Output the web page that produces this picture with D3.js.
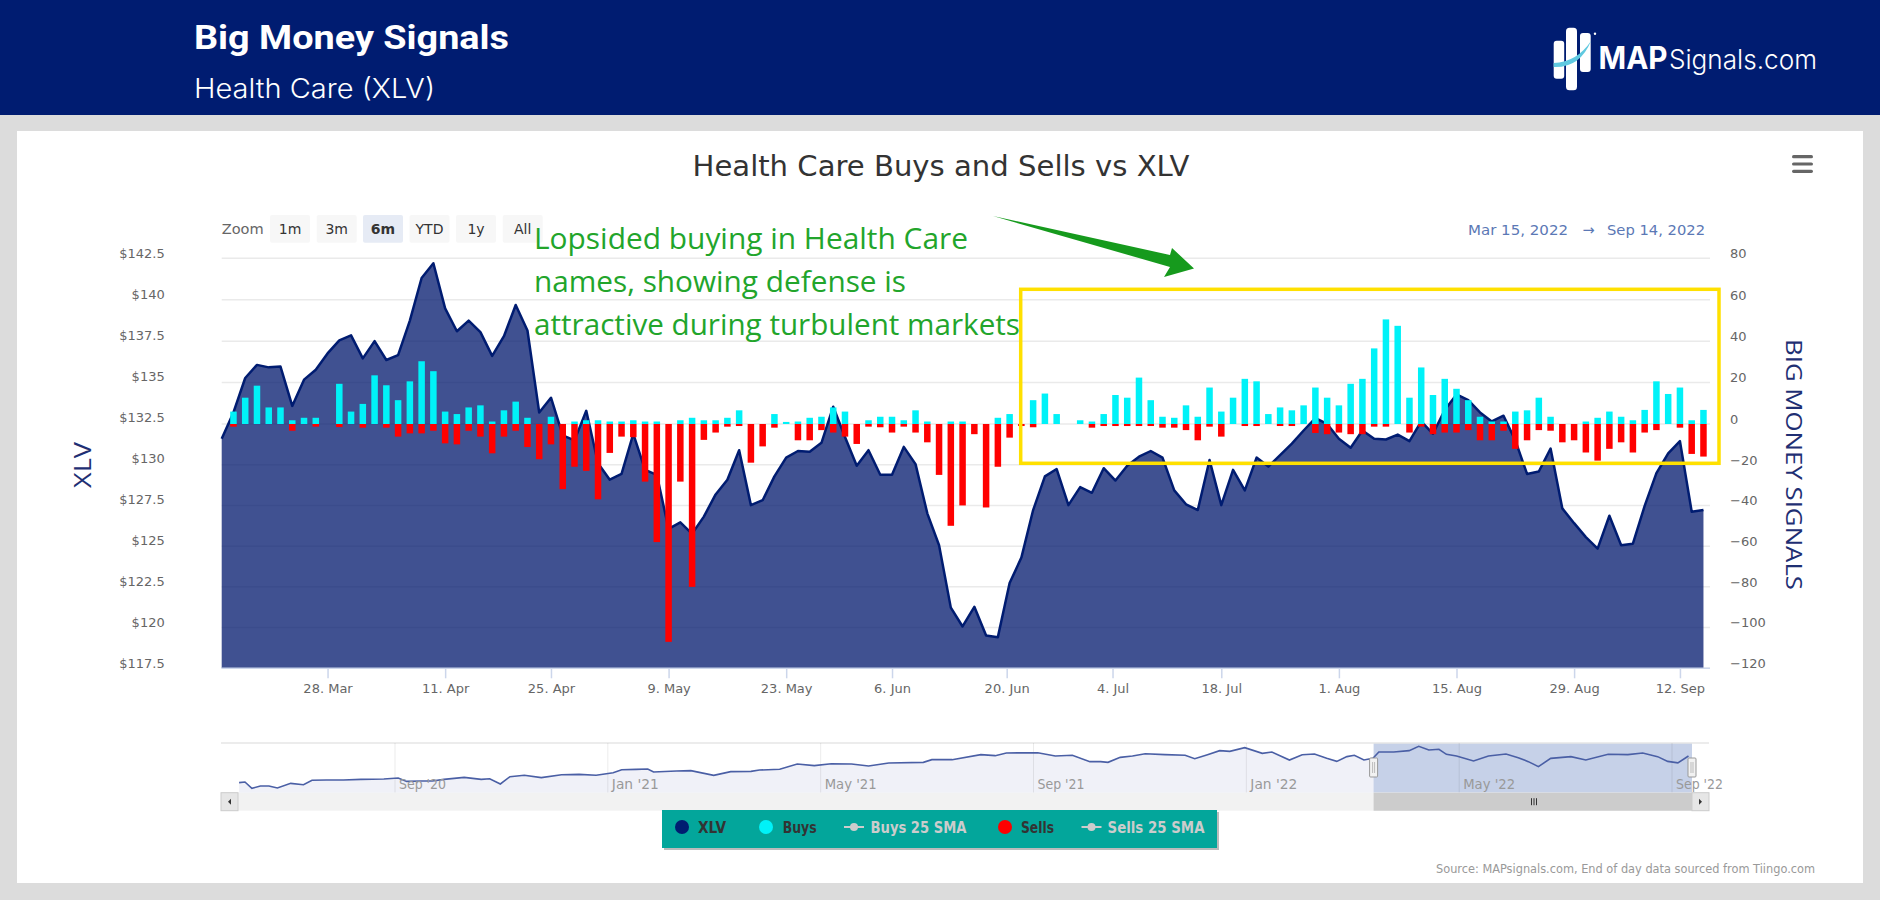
<!DOCTYPE html>
<html>
<head>
<meta charset="utf-8">
<title>Big Money Signals</title>
<script src="https://cdnjs.cloudflare.com/ajax/libs/d3/7.8.5/d3.min.js"></script>
<style>
  html, body { margin: 0; padding: 0; background: #dcdcdc; overflow: hidden; }
  text { font-family: "DejaVu Sans", sans-serif; }
  .axis .domain { display: none; }
  .axis text { fill: #666; font-size: 13px; }
</style>
</head>
<body>
<div id="viz"></div>
<script>
// one entry per trading day, 15 Mar 2022 to 14 Sep 2022
var price = [131.5,133.1,135.2,136,135.85,135.9,133.5,135.1,135.7,136.7,137.5,137.8,136.4,137.45,136.3,136.6,138.7,141.3,142.2,139.45,
  138.05,138.7,138,136.55,137.75,139.65,138.1,133.1,134,131.7,131.4,133.2,130,129,129.35,131.8,129.6,129.3,126,126.4,
  125.7,126.75,128.1,129,130.8,127.45,127.75,129.2,130.35,130.75,130.7,131.25,133.45,131.6,129.85,130.8,129.3,129.3,131,129.95,
  126.95,125,121.2,120.05,121.25,119.5,119.4,122.7,124.25,127.15,129.2,129.65,127.45,128.55,128.2,129.7,128.95,129.85,130.4,130.75,
  130.35,128.35,127.5,127.15,130.2,127.45,129.6,128.35,130.35,129.8,130.5,131.2,132,132.75,132.4,131.5,130.95,132,131.5,131.45,
  131.75,131.35,132.55,131.8,133.25,134.2,133.85,133.1,132.55,132.9,131.4,129.35,129.5,130.9,127.25,126.35,125.5,124.8,126.8,125,
  125.1,127.4,129.4,130.6,131.35,127.05,127.15];

var buys = [0,6,12.7,18.5,8,8,1.8,3,3,0,19.4,6,9.7,23.5,18.7,11.5,20.6,30.3,25.5,6,
  4.8,8,9,1.2,6.6,10.8,3,0,3.5,0,1.2,1.8,1.8,1.2,1.2,1.8,1.2,1.2,0,1.8,
  3,1.8,1.8,3,6.6,0,0,4.8,1,1.2,3,3.5,8,6,0,1.8,3.5,3.5,1.8,6.6,
  1.2,0,1.2,1.2,0,0,3,4.8,0,11.5,14.7,4.8,0,1.8,1.2,4.8,14,12.7,22.4,11.5,
  3.5,3,9,3.5,17.6,6,12.7,21.8,20.6,4.8,8,6.6,9,17.6,12.7,9,19.4,21.8,36.5,50.5,
  47.4,12.7,27.3,14,21.8,17,11.5,3.5,1.2,1.2,6,6.6,12.7,3.5,0,0,1.2,3,6,3.5,
  1.8,6.8,20.6,14.5,17.6,1.8,6.8];

var sells = [0,1.3,0,0,0,0,3.3,0,1.3,0,1.5,0,1.8,0,1.8,6.2,4.6,4.6,3.3,9.5,
  10,3.3,6.2,14.4,6.2,3.3,11.3,17.3,10,32,21,23,37,14.2,6.2,6.5,28.3,58,107,28.3,
  80,7.8,4.2,1.3,1,19,11,1.8,0,8,8,3,4.2,6.2,9.8,1.3,1.6,4.2,1.3,4.2,
  9,25,50,40,5,41,21,6.7,1,1.6,0,0,0,0,1.8,1,1,1,1,1,
  1.8,1.8,3,8,1.3,6.2,0,1,1,0,1,1,0,4.4,5,4.2,5,5,1.3,1.3,
  0,4.2,1.3,5,4.2,4.2,3,8,8,3.3,12.2,8,3,3.3,9,8,14,18,12.2,9,
  14,4.2,3,0,1.8,14.7,16];

// trading day index of each date label, holidays fall between two days
var dateTicks = [[9,"28. Mar"],[19,"11. Apr"],[28,"25. Apr"],[38,"9. May"],[48,"23. May"],[57,"6. Jun"],[66.75,"20. Jun"],
  [75.75,"4. Jul"],[85,"18. Jul"],[95,"1. Aug"],[105,"15. Aug"],[115,"29. Aug"],[124,"12. Sep"]];

// navigator series: [months after Sep 2020, price]
var navData = [[-2.93,101],[-2.82,101.7],[-2.69,94.6],[-2.53,97.2],[-2.37,97.2],[-2.21,95],[-1.96,100.2],[-1.72,98.7],[-1.56,103.6],[-1.29,104],
  [-0.97,104],[-0.64,104.7],[-0.21,105.1],[0.06,106.2],[0.22,102.4],[0.49,102.8],[0.7,102.8],[0.92,104.7],[1.3,106.9],[1.62,104.7],
  [1.78,105.4],[1.98,99.5],[2.16,107.7],[2.43,109.2],[2.75,106.6],[3.13,109.9],[3.46,110.3],[3.78,109.2],[4.1,112.1],[4.26,115.5],
  [4.53,115.9],[4.75,116.3],[4.86,112.9],[5.29,114],[5.56,114.4],[5.99,109.2],[6.31,113.3],[6.69,113.6],[6.85,115.1],[7.23,115.9],
  [7.56,121.9],[7.88,120],[8.2,122.2],[8.58,121.9],[8.9,119.6],[9.28,123],[9.93,123.7],[10.09,126.7],[10.47,126.7],[11.01,132.3],
  [11.28,131.2],[11.49,134.2],[12.08,134.5],[12.41,130.8],[12.73,131.6],[13.06,124.5],[13.26,124.5],[13.4,123.7],[13.63,129.3],[13.86,130.8],
  [14.1,133.4],[14.47,132.3],[14.85,131.6],[15.03,127.8],[15.27,132.3],[15.5,136.8],[15.69,136],[15.97,140.1],[16.3,133.8],[16.48,135.3],
  [16.81,126.3],[17.05,132.3],[17.28,133],[17.51,128.2],[17.7,124.8],[17.89,130.1],[18.03,131.6],[18.21,126.3],[18.38,128.2],[18.49,135.3],
  [18.77,135.3],[19.06,136.8],[19.24,141.6],[19.43,137.5],[19.62,138.3],[19.76,132.7],[19.95,130.8],[20.27,125.2],[20.55,130.8],[20.88,133],
  [21.11,128.9],[21.3,124.5],[21.49,118.9],[21.72,128.2],[22.1,130.1],[22.38,126.3],[22.8,132.7],[23.17,132.3],[23.45,134.2],[23.73,130.1],
  [23.92,124.8],[24.11,123.1],[24.31,130.8]];

var navTicks = [[0,"Sep '20"],[4,"Jan '21"],[8,"May '21"],[12,"Sep '21"],[16,"Jan '22"],[20,"May '22"],[24,"Sep '22"]];

var width = 1880, height = 900;
var plotLeft = 221.7, plotRight = 1710, plotTop = 258.3, plotBottom = 668.3;

var svg = d3.select("#viz").append("svg")
  .attr("width", width)
  .attr("height", height)
  .style("display", "block");

function label(x, y, str, size, fill, opts) {
  opts = opts || {};
  var t = svg.append("text")
    .attr("x", x).attr("y", y)
    .attr("font-size", size)
    .attr("fill", fill)
    .text(str);
  if (opts.family) t.style("font-family", opts.family);
  if (opts.weight) t.attr("font-weight", opts.weight);
  if (opts.anchor) t.attr("text-anchor", opts.anchor);
  if (opts.len) t.attr("textLength", opts.len).attr("lengthAdjust", "spacingAndGlyphs");
  if (opts.rotate) t.attr("transform", "rotate(" + opts.rotate + " " + x + " " + y + ")");
  return t;
}

// page furniture
svg.append("rect").attr("width", width).attr("height", 115).attr("fill", "#001c71");
svg.append("rect").attr("x", 17).attr("y", 131).attr("width", 1846).attr("height", 752).attr("fill", "#fff");

label(194, 49, "Big Money Signals", 33, "#fff", {family: "Roboto", weight: 700, len: 315});
label(194, 98, "Health Care (XLV)", 27, "#fff", {family: "Inter", weight: 300, len: 241});

// logo
var logo = svg.append("g").attr("fill", "#fff");
logo.append("rect").attr("x", 1553.7).attr("y", 40.7).attr("width", 10.5).attr("height", 38).attr("rx", 3);
logo.append("rect").attr("x", 1566).attr("y", 27.7).attr("width", 11).attr("height", 62.5).attr("rx", 3.5);
logo.append("rect").attr("x", 1580).attr("y", 33).attr("width", 10.7).attr("height", 39).attr("rx", 3);
logo.append("circle").attr("cx", 1595).attr("cy", 33.7).attr("r", 1.2);
svg.append("path").attr("d", "M1553.7 63 Q1577 62 1591 41 Q1580 68 1553.7 67 Z").attr("fill", "#5fc9e0");
label(1598.5, 69.3, "MAP", 31, "#fff", {family: "Inter", weight: 700, len: 69});
label(1669, 69.3, "Signals.com", 27, "#fff", {family: "Inter", weight: 300, len: 148});

label(692.5, 175.5, "Health Care Buys and Sells vs XLV", 28, "#333", {len: 497});

// hamburger menu
svg.selectAll(".menu").data([156.7, 164, 171.3]).enter().append("rect")
  .attr("x", 1792).attr("y", function(d) { return d - 1.6; })
  .attr("width", 21).attr("height", 3.2).attr("rx", 1.6).attr("fill", "#666");

// range selector
label(221.7, 234, "Zoom", 14, "#666", {len: 42});
var buttons = [["1m",270],["3m",316.7],["6m",363],["YTD",409.5],["1y",456],["All",502.7]];
svg.selectAll(".zoomBtn").data(buttons).enter().append("rect")
  .attr("x", function(d) { return d[1]; }).attr("y", 215)
  .attr("width", 40).attr("height", 27.7).attr("rx", 2)
  .attr("fill", function(d) { return d[0] == "6m" ? "#e6ebf5" : "#f7f7f7"; });
buttons.forEach(function(d) {
  label(d[1] + 20, 234, d[0], 14, "#333", {anchor: "middle", weight: d[0] == "6m" ? 700 : 400});
});
label(1468, 234.5, "Mar 15, 2022", 14.5, "#5b78b5", {len: 100});
label(1588.5, 234.5, "\u2192", 14.5, "#5b78b5", {anchor: "middle"});
label(1607, 234.5, "Sep 14, 2022", 14.5, "#5b78b5", {len: 98});

// scales
var x = d3.scaleLinear().domain([0, 126]).range([plotLeft, plotLeft + 11.76 * 126]);
var yPrice = d3.scaleLinear().domain([117.5, 142.5]).range([plotBottom, plotTop]);
var ySignal = d3.scaleLinear().domain([-120, 0, 80]).range([plotBottom, 424, plotTop]);

// grid
svg.selectAll(".grid").data(d3.range(-120, 81, 20)).enter().append("line")
  .attr("x1", plotLeft).attr("x2", plotRight)
  .attr("y1", function(d) { return ySignal(d); })
  .attr("y2", function(d) { return ySignal(d); })
  .attr("stroke", "#eaeaea").attr("stroke-width", 1.5);

// axes
var leftAxis = svg.append("g").attr("class", "axis")
  .attr("transform", "translate(" + plotLeft + ",0)")
  .call(d3.axisLeft(yPrice).tickValues(d3.range(117.5, 142.6, 2.5)).tickSize(0).tickPadding(57)
    .tickFormat(function(d) { return "$" + d; }));
leftAxis.selectAll("text").attr("dy", "-0.05em");

var rightAxis = svg.append("g").attr("class", "axis")
  .attr("transform", "translate(" + plotRight + ",0)")
  .call(d3.axisRight(ySignal).tickValues(d3.range(-120, 81, 20)).tickSize(0).tickPadding(20));
rightAxis.selectAll("text").attr("dy", "-0.05em");

var bottomAxis = svg.append("g").attr("class", "axis")
  .attr("transform", "translate(0," + plotBottom + ")")
  .call(d3.axisBottom(x).tickValues(dateTicks.map(function(d) { return d[0]; }))
    .tickSize(10).tickPadding(5)
    .tickFormat(function(d) { return dateTicks.find(function(t) { return t[0] == d; })[1]; }));
bottomAxis.selectAll("line").attr("stroke", "#ccd6eb").attr("stroke-width", 1.5);

// area and line
var area = d3.area()
  .x(function(d, i) { return x(i); })
  .y0(plotBottom)
  .y1(function(d) { return yPrice(d); });
var line = d3.line()
  .x(function(d, i) { return x(i); })
  .y(function(d) { return yPrice(d); });

svg.append("path").datum(price).attr("d", area).attr("fill", "#00176c").attr("fill-opacity", 0.75);
svg.append("path").datum(price).attr("d", line).attr("fill", "none").attr("stroke", "#001c71")
  .attr("stroke-width", 2.5).attr("stroke-linejoin", "round");
svg.append("line").attr("x1", plotLeft).attr("x2", plotRight).attr("y1", plotBottom).attr("y2", plotBottom)
  .attr("stroke", "#ccd6eb").attr("stroke-width", 1.5);

// bars
var barWidth = 6.5;
svg.selectAll(".buy").data(buys).enter().append("rect")
  .attr("class", "buy")
  .attr("x", function(d, i) { return x(i) - barWidth / 2; })
  .attr("y", function(d) { return ySignal(d); })
  .attr("width", barWidth)
  .attr("height", function(d) { return ySignal(0) - ySignal(d); })
  .attr("fill", "#00f2f8");
svg.selectAll(".sell").data(sells).enter().append("rect")
  .attr("class", "sell")
  .attr("x", function(d, i) { return x(i) - barWidth / 2; })
  .attr("y", ySignal(0))
  .attr("width", barWidth)
  .attr("height", function(d) { return ySignal(-d) - ySignal(0); })
  .attr("fill", "#ff0000");

// axis titles
label(91, 465, "XLV", 23, "#1f2f73", {anchor: "middle", rotate: -90, family: "Open Sans", len: 46});
label(1786, 339, "BIG MONEY SIGNALS", 22, "#1f2f73", {rotate: 90, family: "Open Sans", len: 251});

// annotation
svg.append("rect").attr("x", 1020.7).attr("y", 289.3).attr("width", 698.3).attr("height", 174)
  .attr("fill", "none").attr("stroke", "#ffe000").attr("stroke-width", 3.5);
svg.append("path")
  .attr("d", "M993 216 L1170 255 L1172 248 L1194 268.5 L1164 277 L1170 267 Z")
  .attr("fill", "#169a1d");
["Lopsided buying in Health Care", "names, showing defense is", "attractive during turbulent markets"].forEach(function(s, i) {
  label(534, 248.5 + i * 43.3, s, 29, "#22a52b", {family: "Open Sans", len: [434, 372, 486][i]});
});

// navigator
var navX = d3.scaleLinear().domain([0, 24]).range([395, 1672]);
var navY = d3.scaleLinear().domain([142, 94]).range([746, 788.9]);
var navBottom = 792.7, navTop = 743;

svg.append("path").datum(navData)
  .attr("d", d3.area().x(function(d) { return navX(d[0]); }).y0(navBottom).y1(function(d) { return navY(d[1]); }))
  .attr("fill", "#f0f1f8");
svg.append("rect").attr("x", 1373.6).attr("y", navTop).attr("width", 318.4).attr("height", navBottom - navTop).attr("fill", "#c6d1e8");
svg.append("line").attr("x1", 221).attr("x2", 1709).attr("y1", navTop).attr("y2", navTop)
  .attr("stroke", "#e6e6e6").attr("stroke-width", 1.5);
svg.selectAll(".navTick").data(navTicks).enter().append("line")
  .attr("x1", function(d) { return navX(d[0]); }).attr("x2", function(d) { return navX(d[0]); })
  .attr("y1", navTop).attr("y2", navBottom)
  .attr("stroke", "#000").attr("stroke-opacity", 0.08);
svg.append("path").datum(navData)
  .attr("d", d3.line().x(function(d) { return navX(d[0]); }).y(function(d) { return navY(d[1]); }))
  .attr("fill", "none").attr("stroke", "#4a5fa5").attr("stroke-width", 1.6);
navTicks.forEach(function(d) {
  label(navX(d[0]) + 4, 789, d[1], 14, "#999", {len: d[1].charAt(0) == "M" ? 52 : 47});
});

// scrollbar
svg.append("rect").attr("x", 221).attr("y", navBottom).attr("width", 1488).attr("height", 18).attr("fill", "#f2f2f2");
svg.append("rect").attr("x", 1373.6).attr("y", navBottom).attr("width", 318.4).attr("height", 18).attr("fill", "#cccccc");
[221, 1692].forEach(function(bx, i) {
  svg.append("rect").attr("x", bx).attr("y", navBottom).attr("width", 17).attr("height", 18)
    .attr("fill", "#e6e6e6").attr("stroke", "#ccc");
  var cx = bx + 8.5, cy = navBottom + 9;
  svg.append("path")
    .attr("d", i == 0 ? "M" + (cx + 1.5) + " " + (cy - 3) + " l-3 3 l3 3 Z" : "M" + (cx - 1.5) + " " + (cy - 3) + " l3 3 l-3 3 Z")
    .attr("fill", "#333");
});
[-2.5, 0, 2.5].forEach(function(d) {
  svg.append("line").attr("x1", 1534 + d).attr("x2", 1534 + d).attr("y1", navBottom + 5.5).attr("y2", navBottom + 12.5)
    .attr("stroke", "#333").attr("stroke-width", 1);
});
// navigator handles
[1373.6, 1692].forEach(function(hx) {
  svg.append("rect").attr("x", hx - 4).attr("y", 758).attr("width", 8).attr("height", 19).attr("rx", 1)
    .attr("fill", "#f2f2f2").attr("stroke", "#999");
  svg.append("line").attr("x1", hx - 1).attr("x2", hx - 1).attr("y1", 762).attr("y2", 773).attr("stroke", "#bbb");
  svg.append("line").attr("x1", hx + 1).attr("x2", hx + 1).attr("y1", 762).attr("y2", 773).attr("stroke", "#bbb");
});

// legend
svg.append("rect").attr("x", 664).attr("y", 812).attr("width", 555).attr("height", 38).attr("fill", "#bbb");
svg.append("rect").attr("x", 662).attr("y", 810).attr("width", 555).attr("height", 38).attr("fill", "#03a69b");
var legend = [
  {name: "XLV", cx: 682, tx: 698, len: 28, color: "#001c71", text: "#333"},
  {name: "Buys", cx: 766, tx: 782.7, len: 34, color: "#00f2f8", text: "#333"},
  {name: "Buys 25 SMA", cx: 854, tx: 870.5, len: 96, color: "#ccc", text: "#ccc", sma: true},
  {name: "Sells", cx: 1005, tx: 1021, len: 33, color: "#ff0000", text: "#333"},
  {name: "Sells 25 SMA", cx: 1091.5, tx: 1107.5, len: 97, color: "#ccc", text: "#ccc", sma: true}
];
legend.forEach(function(d) {
  if (d.sma) {
    svg.append("line").attr("x1", d.cx - 10).attr("x2", d.cx + 10).attr("y1", 827).attr("y2", 827)
      .attr("stroke", d.color).attr("stroke-width", 2);
    svg.append("circle").attr("cx", d.cx).attr("cy", 827).attr("r", 4).attr("fill", d.color);
  } else {
    svg.append("circle").attr("cx", d.cx).attr("cy", 827).attr("r", 7).attr("fill", d.color);
  }
  label(d.tx, 833, d.name, 15, d.text, {weight: 700, len: d.len});
});

label(1436, 873, "Source: MAPsignals.com, End of day data sourced from Tiingo.com", 12, "#999", {len: 379});
</script>
</body>
</html>
